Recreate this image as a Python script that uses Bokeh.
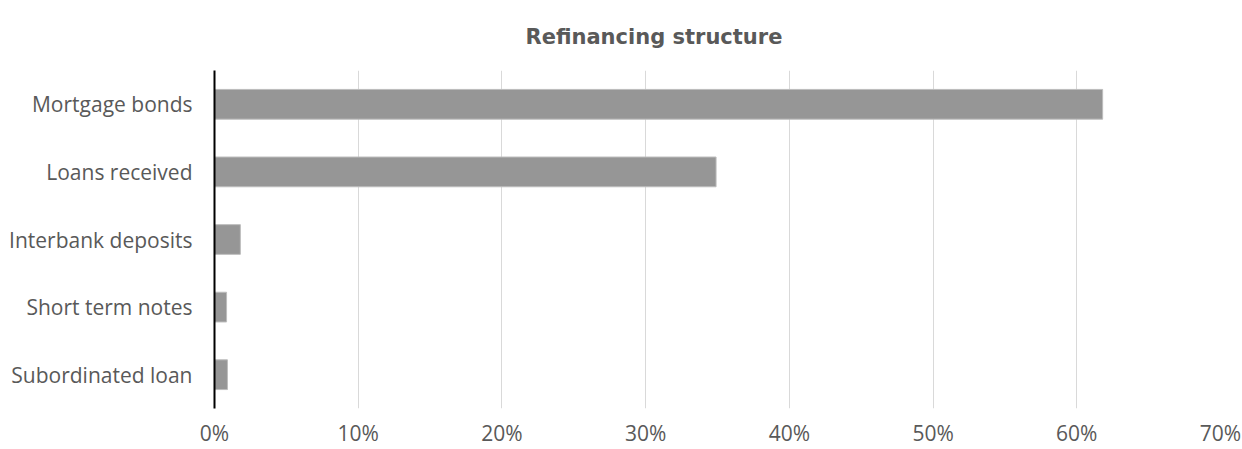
from bokeh.plotting import figure
from bokeh.models import ColumnDataSource, NumeralTickFormatter, FixedTicker, Range1d
from bokeh.embed import file_html
from bokeh.resources import INLINE

title_text = "Refinancing structure"
categories = ["Mortgage bonds", "Loans received", "Interbank deposits", "Short term notes", "Subordinated loan"]
shares = [0.618, 0.349, 0.018, 0.0084, 0.009]
tick_values = [0.0, 0.1, 0.2, 0.3, 0.4, 0.5, 0.6, 0.7]

src = ColumnDataSource(dict(cat=categories, val=shares))

p = figure(width=1242, height=449, y_range=list(reversed(categories)),
           x_range=Range1d(0, 0.70), output_backend="svg", toolbar_location=None,
           min_border_left=214, min_border_right=22, min_border_top=70, min_border_bottom=39,
           title=title_text)

p.hbar(y="cat", left=0, right="val", height=0.44, source=src,
       fill_color="#969696", line_color="#bdbdbd", line_width=1)

p.title.align = "left"
p.title.vertical_align = "bottom"
p.title.text_font = "DejaVu Sans"
p.title.text_font_style = "bold"
p.title.text_font_size = "21px"
p.title.text_color = "#595959"
p.title.standoff = 43
p.title.offset = 311

p.outline_line_color = None
p.background_fill_color = "white"
p.border_fill_color = "white"

p.xaxis.ticker = FixedTicker(ticks=tick_values)
p.xaxis.formatter = NumeralTickFormatter(format="0%")
p.xaxis.axis_line_color = None
p.xaxis.major_tick_line_color = None
p.xaxis.minor_tick_line_color = None
p.xaxis.major_tick_out = 0
p.xaxis.major_tick_in = 0
p.xaxis.minor_tick_out = 0
p.xaxis.major_label_text_font = "Open Sans"
p.xaxis.major_label_text_font_size = "21px"
p.xaxis.major_label_text_color = "#595959"
p.xaxis.major_label_standoff = 10

p.yaxis.axis_line_color = "black"
p.yaxis.axis_line_width = 2
p.yaxis.major_tick_line_color = None
p.yaxis.minor_tick_line_color = None
p.yaxis.major_tick_out = 0
p.yaxis.major_tick_in = 0
p.yaxis.minor_tick_out = 0
p.yaxis.major_label_text_font = "Open Sans"
p.yaxis.major_label_text_font_size = "21px"
p.yaxis.major_label_text_color = "#595959"
p.yaxis.major_label_standoff = 22

p.xgrid.grid_line_color = "#d9d9d9"
p.xgrid.grid_line_width = 1
p.ygrid.grid_line_color = None

open("out.html", "w").write(file_html(p, INLINE))
